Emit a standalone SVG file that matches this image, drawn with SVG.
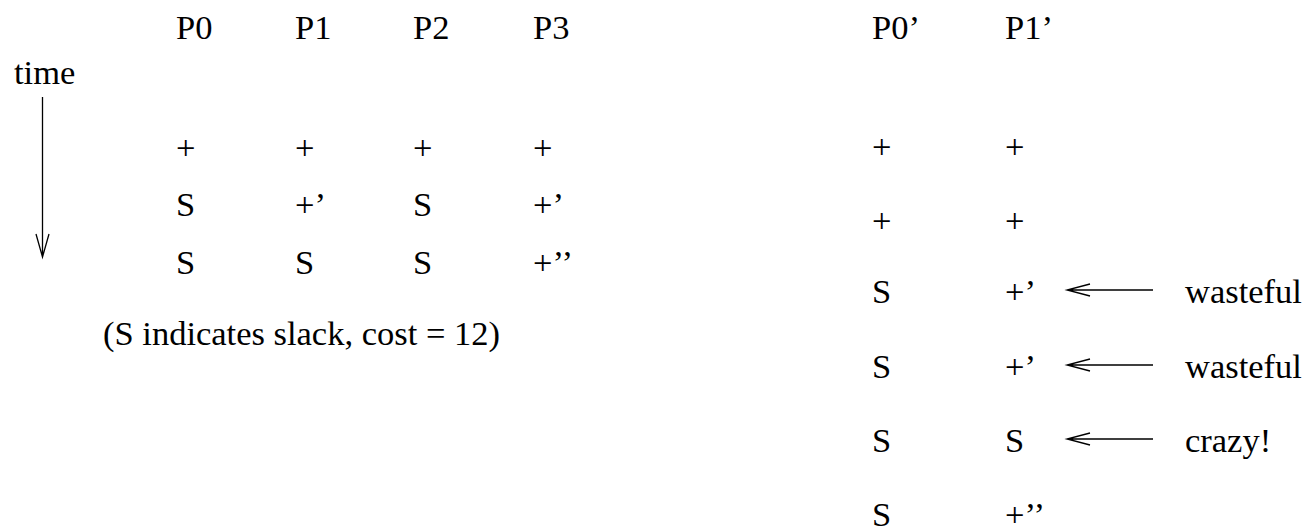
<svg xmlns="http://www.w3.org/2000/svg" width="1308" height="528" viewBox="0 0 1308 528">
  <style>
    .t { font-family: "Liberation Serif", "Times New Roman", "DejaVu Serif", serif; font-size: 34.5px; fill: #000; }
    .conn { stroke: #000; stroke-width: 1.3; fill: none; }
  </style>
  <rect width="1308" height="528" fill="#fff"/>

  <g class="t">
    <!-- left schedule: four processors -->
    <g id="left-headers">
      <text x="176" y="39">P0</text>
      <text x="295" y="39">P1</text>
      <text x="413" y="39">P2</text>
      <text x="533" y="39">P3</text>
    </g>
    <g id="time-label"><text x="14" y="84">time</text></g>

    <g id="left-row1">
      <text x="176" y="159">+</text>
      <text x="295" y="159">+</text>
      <text x="413" y="159">+</text>
      <text x="533" y="159">+</text>
    </g>
    <g id="left-row2">
      <text x="176" y="216">S</text>
      <text x="295" y="216">+’</text>
      <text x="413" y="216">S</text>
      <text x="533" y="216">+’</text>
    </g>
    <g id="left-row3">
      <text x="176" y="274">S</text>
      <text x="295" y="274">S</text>
      <text x="413" y="274">S</text>
      <text x="533" y="274">+’’</text>
    </g>
    <g id="caption"><text x="103" y="345">(S indicates slack, cost = 12)</text></g>

    <!-- right schedule: two processors -->
    <g id="right-headers">
      <text x="872" y="39">P0’</text>
      <text x="1005" y="39">P1’</text>
    </g>
    <g id="right-row1"><text x="872" y="158">+</text><text x="1005" y="158">+</text></g>
    <g id="right-row2"><text x="872" y="232">+</text><text x="1005" y="232">+</text></g>
    <g id="right-row3"><text x="872" y="303">S</text><text x="1005" y="303">+’</text></g>
    <g id="right-row4"><text x="872" y="378">S</text><text x="1005" y="378">+’</text></g>
    <g id="right-row5"><text x="872" y="452">S</text><text x="1005" y="452">S</text></g>
    <g id="right-row6"><text x="872" y="526">S</text><text x="1005" y="526">+’’</text></g>

    <g id="notes">
      <text x="1185" y="303">wasteful</text>
      <text x="1185" y="378">wasteful</text>
      <text x="1185" y="452">crazy!</text>
    </g>
  </g>

  <!-- connectors -->
  <g id="connectors" class="conn">
    <path d="M42.5 97 V257 M36 234 L42.5 257 L49 234"/>
    <path d="M1153 290 H1067 M1090 284 L1067 290 L1090 296"/>
    <path d="M1153 365 H1067 M1090 359 L1067 365 L1090 371"/>
    <path d="M1153 439 H1067 M1090 433 L1067 439 L1090 445"/>
  </g>
</svg>
